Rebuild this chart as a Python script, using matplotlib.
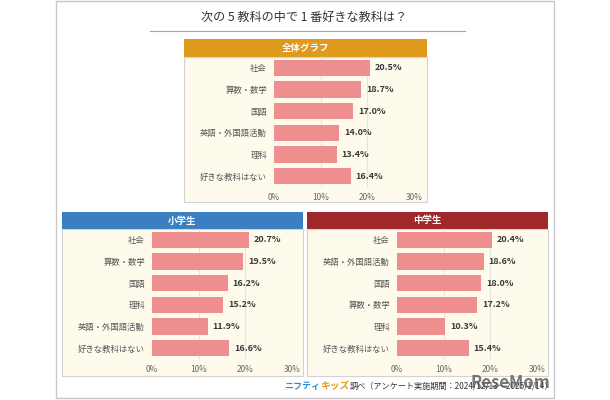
import matplotlib
matplotlib.use("Agg")
import matplotlib.pyplot as plt
from matplotlib.patches import Rectangle
from matplotlib.lines import Line2D

plt.rcParams['font.family'] = ['Noto Sans CJK JP', 'DejaVu Sans']

title = "次の 5 教科の中で 1 番好きな教科は？"

all_title = "全体グラフ"
all_cats = ["社会", "算数・数学", "国語", "英語・外国語活動", "理科", "好きな教科はない"]
all_vals = [20.5, 18.7, 17.0, 14.0, 13.4, 16.4]

elem_title = "小学生"
elem_cats = ["社会", "算数・数学", "国語", "理科", "英語・外国語活動", "好きな教科はない"]
elem_vals = [20.7, 19.5, 16.2, 15.2, 11.9, 16.6]

jr_title = "中学生"
jr_cats = ["社会", "英語・外国語活動", "国語", "算数・数学", "理科", "好きな教科はない"]
jr_vals = [20.4, 18.6, 18.0, 17.2, 10.3, 15.4]

xticks = [0, 10, 20, 30]
xticklabels = ["0%", "10%", "20%", "30%"]

W, H = 610, 400
fig = plt.figure(figsize=(W / 100, H / 100), dpi=100)
fig.patch.set_facecolor("white")


def fx(x):
    return x / W


def fy(y):
    return 1 - y / H


def rect(x0, y0, x1, y1, **kw):
    fig.patches.append(Rectangle((fx(x0), fy(y1)), fx(x1) - fx(x0), (y1 - y0) / H,
                                 transform=fig.transFigure, zorder=-2, **kw))


# outer frame
rect(55.5, 1, 554, 398, facecolor="none", edgecolor="#c8c8c8", linewidth=1.0)

# title and rule
fig.text(fx(304), fy(17), title, ha="center", va="center", fontsize=8.7, color="#333333")
fig.lines.append(Line2D([fx(150), fx(465)], [fy(30.5), fy(30.5)], transform=fig.transFigure,
                        color="#a8a8a8", linewidth=0.8))


def panel(px0, px1, hy0, hy1, by1, ax_x0, ax_x1, head_col, head_txt, cats, vals):
    # header
    rect(px0, hy0, px1, hy1, facecolor=head_col, edgecolor="none")
    fig.text(fx((px0 + px1) / 2), fy((hy0 + hy1) / 2), head_txt, ha="center", va="center",
             fontsize=6.8, color="white", fontweight="bold")
    # body
    rect(px0, hy1, px1, by1, facecolor="#fefbed", edgecolor="#d2d2d2", linewidth=0.8)
    ax_y0 = hy1
    ax_y1 = hy1 + 130
    ax = fig.add_axes([fx(ax_x0), fy(ax_y1), fx(ax_x1) - fx(ax_x0), (ax_y1 - ax_y0) / H])
    ax.set_zorder(3)
    ax.set_facecolor("none")
    ypos = list(range(len(cats)))
    ax.barh(ypos, vals, height=0.74, color="#ee8e8e", zorder=3)
    for i, v in enumerate(vals):
        ax.annotate(f"{v:.1f}%", (v, i), xytext=(3.5, 0), textcoords="offset points",
                    ha="left", va="center", fontsize=6.5, fontweight="bold", color="#3a3a3a")
    ax.set_xlim(0, 30)
    ax.set_ylim(len(cats) - 0.5, -0.5)
    ax.set_xticks(xticks)
    ax.set_xticklabels(xticklabels)
    ax.set_yticks(ypos)
    ax.set_yticklabels(cats)
    for g in xticks[1:]:
        ax.axvline(g, color="#e4e4e4", linewidth=0.8, zorder=1)
    ax.tick_params(axis="x", length=0, pad=4, labelsize=6, labelcolor="#666666")
    ax.tick_params(axis="y", length=0, pad=5, labelsize=6, labelcolor="#555555")
    for s in ax.spines.values():
        s.set_visible(False)
    return ax


panel(184, 427, 39, 57, 202, 274, 414, "#df9a1e", all_title, all_cats, all_vals)
panel(62, 303, 212, 229, 376, 152, 292, "#3a7fc1", elem_title, elem_cats, elem_vals)
panel(307, 548, 212, 229, 376, 397, 537, "#a0282a", jr_title, jr_cats, jr_vals)

# footer, pieces placed one after another
fig.canvas.draw()
renderer = fig.canvas.get_renderer()
pieces = [("ニフティ", 6.5, "#2f8fd6", "bold"),
          ("キッズ", 7, "#e89a1a", "bold"),
          ("調べ（アンケート実施期間：2024/12/13～2025/1/14）", 5.9, "#333333", "normal")]
xcur = fx(284)
for txt, fs, col, fw in pieces:
    t = fig.text(xcur, fy(386), txt, ha="left", va="center", fontsize=fs, color=col,
                 fontweight=fw)
    bb = t.get_window_extent(renderer)
    xcur += bb.width / W

fig.text(fx(510), fy(383), "ReseMom", ha="center", va="center", fontsize=12,
         color="#555555", fontweight="bold", alpha=0.8)

fig.savefig("out.png", dpi=100, facecolor="white")
